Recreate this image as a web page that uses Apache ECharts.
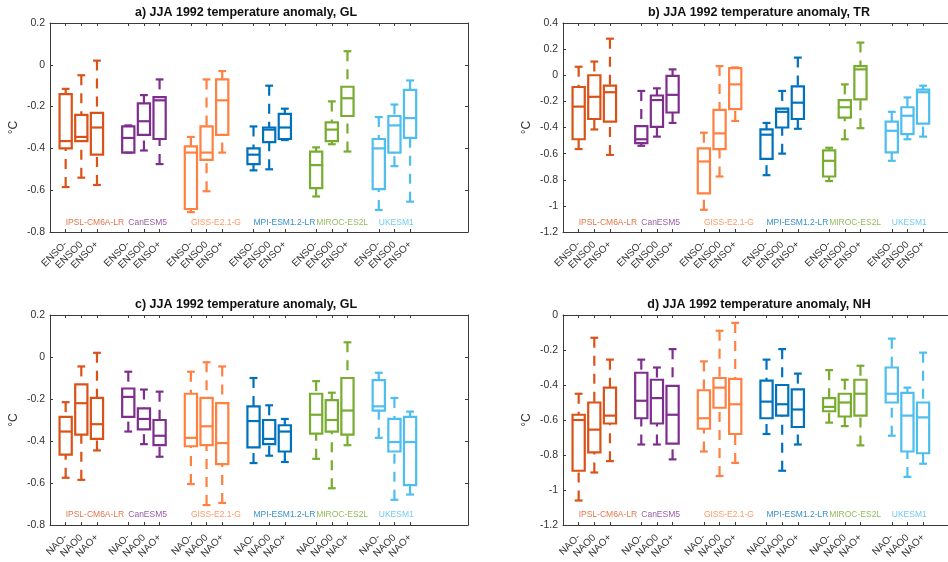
<!DOCTYPE html>
<html lang="en">
<head>
<meta charset="utf-8">
<title>JJA 1992 temperature anomaly</title>
<script src="https://cdn.jsdelivr.net/npm/echarts@6.0.0/dist/echarts.min.js"></script>
<style>
  html, body { margin: 0; padding: 0; background: #fff; }
  #main { width: 948px; height: 562px; }
</style>
</head>
<body>
<div id="main"></div>
<script type="text/javascript">
// models and their colours
var models = ['IPSL-CM6A-LR', 'CanESM5', 'GISS-E2.1-G', 'MPI-ESM1.2-LR', 'MIROC-ES2L', 'UKESM1'];
var modelColors = ['#D95319', '#7E2F8E', '#FF8040', '#0072BD', '#77AC30', '#4DBEEE'];
// x positions of the 18 boxes (3 per model, one empty slot between models)
var positions = [1, 2, 3, 5, 6, 7, 9, 10, 11, 13, 14, 15, 17, 18, 19, 21, 22, 23];
var ensoLabels = ['ENSO-', 'ENSO0', 'ENSO+'];
var naoLabels = ['NAO-', 'NAO0', 'NAO+'];

// each row: [lower whisker, q1, median, q3, upper whisker]
var aGL = [
  [-0.585, -0.40, -0.365, -0.14, -0.115], [-0.54, -0.365, -0.345, -0.24, -0.05], [-0.575, -0.43, -0.30, -0.23, 0.02],
  [-0.42, -0.42, -0.35, -0.295, -0.29], [-0.41, -0.335, -0.27, -0.185, -0.145], [-0.475, -0.355, -0.17, -0.155, -0.07],
  [-0.705, -0.69, -0.42, -0.39, -0.345], [-0.605, -0.455, -0.42, -0.295, -0.07], [-0.42, -0.335, -0.17, -0.07, -0.03],
  [-0.505, -0.475, -0.43, -0.40, -0.295], [-0.50, -0.37, -0.31, -0.30, -0.10], [-0.36, -0.355, -0.30, -0.235, -0.21],
  [-0.63, -0.59, -0.48, -0.415, -0.395], [-0.38, -0.365, -0.31, -0.275, -0.175], [-0.415, -0.245, -0.16, -0.105, 0.065],
  [-0.695, -0.595, -0.40, -0.355, -0.25], [-0.485, -0.42, -0.29, -0.245, -0.19], [-0.655, -0.35, -0.255, -0.12, -0.075]
];
var bTR = [
  [-0.565, -0.49, -0.24, -0.09, 0.065], [-0.415, -0.335, -0.165, 0.0, 0.105], [-0.61, -0.355, -0.13, -0.08, 0.28],
  [-0.54, -0.52, -0.49, -0.39, -0.12], [-0.47, -0.395, -0.19, -0.155, -0.10], [-0.365, -0.285, -0.15, -0.005, 0.045],
  [-1.03, -0.905, -0.66, -0.56, -0.44], [-0.775, -0.565, -0.445, -0.265, 0.07], [-0.35, -0.26, -0.07, 0.055, 0.06],
  [-0.765, -0.64, -0.455, -0.415, -0.365], [-0.60, -0.40, -0.28, -0.255, -0.12], [-0.41, -0.335, -0.21, -0.085, 0.135],
  [-0.81, -0.775, -0.655, -0.575, -0.555], [-0.49, -0.325, -0.245, -0.19, -0.07], [-0.405, -0.185, 0.045, 0.07, 0.25],
  [-0.655, -0.59, -0.425, -0.355, -0.28], [-0.49, -0.45, -0.31, -0.245, -0.17], [-0.47, -0.37, -0.13, -0.11, -0.08]
];
var cGL = [
  [-0.575, -0.465, -0.355, -0.285, -0.215], [-0.585, -0.37, -0.22, -0.13, -0.045], [-0.445, -0.39, -0.32, -0.195, 0.02],
  [-0.355, -0.285, -0.19, -0.15, -0.07], [-0.415, -0.345, -0.295, -0.245, -0.155], [-0.475, -0.42, -0.375, -0.30, -0.165],
  [-0.605, -0.425, -0.385, -0.175, -0.07], [-0.705, -0.42, -0.33, -0.195, -0.025], [-0.695, -0.51, -0.41, -0.22, -0.045],
  [-0.505, -0.43, -0.305, -0.235, -0.10], [-0.47, -0.415, -0.39, -0.30, -0.23], [-0.50, -0.45, -0.355, -0.325, -0.295],
  [-0.485, -0.365, -0.275, -0.175, -0.115], [-0.625, -0.355, -0.30, -0.205, -0.17], [-0.42, -0.37, -0.255, -0.10, 0.07],
  [-0.385, -0.255, -0.235, -0.11, -0.075], [-0.68, -0.45, -0.405, -0.295, -0.195], [-0.655, -0.61, -0.405, -0.285, -0.26]
];
var dNH = [
  [-1.06, -0.89, -0.60, -0.57, -0.45], [-0.90, -0.785, -0.655, -0.50, -0.13], [-0.835, -0.62, -0.575, -0.415, -0.255],
  [-0.74, -0.59, -0.49, -0.33, -0.255], [-0.74, -0.62, -0.475, -0.37, -0.30], [-0.825, -0.735, -0.57, -0.405, -0.195],
  [-0.78, -0.65, -0.59, -0.43, -0.265], [-0.92, -0.53, -0.415, -0.36, -0.09], [-0.845, -0.68, -0.51, -0.365, -0.045],
  [-0.68, -0.59, -0.495, -0.375, -0.255], [-0.89, -0.575, -0.51, -0.40, -0.195], [-0.74, -0.64, -0.54, -0.425, -0.335],
  [-0.615, -0.55, -0.525, -0.475, -0.315], [-0.635, -0.58, -0.50, -0.45, -0.37], [-0.745, -0.575, -0.45, -0.37, -0.29],
  [-0.69, -0.50, -0.45, -0.30, -0.135], [-0.925, -0.78, -0.575, -0.445, -0.415], [-0.85, -0.79, -0.585, -0.50, -0.215]
];

var panels = [
  { title: 'a) JJA 1992 temperature anomaly, GL', data: aGL, ticks: ensoLabels, min: -0.8, max: 0.2, left: 50, top: 23, height: 209 },
  { title: 'b) JJA 1992 temperature anomaly, TR', data: bTR, ticks: ensoLabels, min: -1.2, max: 0.4, left: 563, top: 23, height: 209 },
  { title: 'c) JJA 1992 temperature anomaly, GL', data: cGL, ticks: naoLabels, min: -0.8, max: 0.2, left: 50, top: 315, height: 210 },
  { title: 'd) JJA 1992 temperature anomaly, NH', data: dNH, ticks: naoLabels, min: -1.2, max: 0, left: 563, top: 315, height: 210 }
];

var XMAX = 26.7;
var PLOT_W = 418;
var BOX_W = 0.78;
var CAP_W = 0.5;
var FONT = "'Liberation Sans', Arial, sans-serif";
var AXIS_COLOR = '#3a3a3a';

function renderBox(params, api) {
  var x = api.value(0);
  var lo = api.coord([x, api.value(1)]);
  var q1 = api.coord([x, api.value(2)]);
  var md = api.coord([x, api.value(3)]);
  var q3 = api.coord([x, api.value(4)]);
  var hi = api.coord([x, api.value(5)]);
  var half = api.size([BOX_W, 0])[0] / 2;
  var cap = api.size([CAP_W, 0])[0] / 2;
  var cx = md[0];
  var color = modelColors[api.value(6)];
  var solid = { stroke: color, lineWidth: 2.2, fill: 'none' };
  var dashed = { stroke: color, lineWidth: 2.2, lineDash: [10, 8], fill: 'none' };
  // whiskers are drawn from the cap towards the box so the dash pattern starts at the cap
  return {
    type: 'group',
    children: [
      { type: 'line', shape: { x1: cx, y1: hi[1], x2: cx, y2: q3[1] }, style: dashed },
      { type: 'line', shape: { x1: cx, y1: lo[1], x2: cx, y2: q1[1] }, style: dashed },
      { type: 'line', shape: { x1: cx - cap, y1: hi[1], x2: cx + cap, y2: hi[1] }, style: solid },
      { type: 'line', shape: { x1: cx - cap, y1: lo[1], x2: cx + cap, y2: lo[1] }, style: solid },
      { type: 'rect', shape: { x: cx - half, y: q3[1], width: half * 2, height: q1[1] - q3[1] }, style: solid },
      { type: 'line', shape: { x1: cx - half, y1: md[1], x2: cx + half, y2: md[1] }, style: solid }
    ]
  };
}

var grids = [], xAxes = [], yAxes = [], series = [], graphics = [];

panels.forEach(function (p, i) {
  // the right-hand panels run past the page edge, as in the original figure
  grids.push({ left: p.left, top: p.top, width: PLOT_W, height: p.height, containLabel: false, outerBoundsMode: 'none' });

  var tickLabel = function (v) {
    var k = positions.indexOf(v);
    return k < 0 ? '' : p.ticks[k % 3];
  };
  // bottom x axis with labels; empty labels at both ends keep the
  // min/max overlap check from dropping real labels
  xAxes.push({
    type: 'value', gridIndex: i, min: 0, max: XMAX, position: 'bottom',
    axisLine: { show: true, onZero: false, lineStyle: { color: AXIS_COLOR, width: 1 } },
    axisTick: { show: true, inside: true, length: 3, customValues: positions, lineStyle: { color: AXIS_COLOR } },
    axisLabel: {
      show: true, customValues: [0].concat(positions, [XMAX]), rotate: 45, margin: 11,
      showMinLabel: true, showMaxLabel: true, hideOverlap: false,
      fontSize: 10, fontFamily: FONT, color: '#333', formatter: tickLabel
    },
    splitLine: { show: false }
  });
  // top x axis (box edge with ticks)
  xAxes.push({
    type: 'value', gridIndex: i, min: 0, max: XMAX, position: 'top',
    axisLine: { show: true, onZero: false, lineStyle: { color: AXIS_COLOR, width: 1 } },
    axisTick: { show: true, inside: true, length: 3, customValues: positions, lineStyle: { color: AXIS_COLOR } },
    axisLabel: { show: false },
    splitLine: { show: false }
  });
  // left y axis
  yAxes.push({
    type: 'value', gridIndex: i, min: p.min, max: p.max, interval: 0.2, position: 'left',
    name: '°C', nameLocation: 'middle', nameGap: 30, nameRotate: 90,
    nameTextStyle: { fontSize: 12, fontFamily: FONT, color: '#333' },
    axisLine: { show: true, onZero: false, lineStyle: { color: AXIS_COLOR, width: 1 } },
    axisTick: { show: true, inside: true, length: 3, lineStyle: { color: AXIS_COLOR } },
    axisLabel: { fontSize: 10.5, fontFamily: FONT, color: '#333', margin: 5, showMinLabel: true, showMaxLabel: true },
    splitLine: { show: false }
  });
  // right y axis (box edge with ticks)
  yAxes.push({
    type: 'value', gridIndex: i, min: p.min, max: p.max, interval: 0.2, position: 'right',
    axisLine: { show: true, onZero: false, lineStyle: { color: AXIS_COLOR, width: 1 } },
    axisTick: { show: true, inside: true, length: 3, lineStyle: { color: AXIS_COLOR } },
    axisLabel: { show: false },
    splitLine: { show: false }
  });

  var boxData = p.data.map(function (r, k) {
    return [positions[k], r[0], r[1], r[2], r[3], r[4], Math.floor(k / 3)];
  });
  series.push({
    type: 'custom', xAxisIndex: i * 2, yAxisIndex: i * 2,
    renderItem: renderBox, data: boxData, clip: false, silent: true,
    encode: { x: 0, y: [1, 2, 3, 4, 5] }
  });

  // model names near the bottom of each panel, starting at each group's first box
  var labelY = p.min + 0.047 * (p.max - p.min);
  series.push({
    type: 'scatter', xAxisIndex: i * 2, yAxisIndex: i * 2, symbolSize: 0, silent: true,
    data: models.map(function (m, k) {
      return {
        value: [positions[k * 3], labelY], name: m,
        label: { color: modelColors[k] }
      };
    }),
    label: {
      show: true, position: 'right', distance: 0, fontSize: 8.5, fontFamily: FONT,
      formatter: function (d) { return d.name; }
    }
  });

  graphics.push({
    type: 'text', x: p.left + PLOT_W / 2 - 13, y: p.top - 10,
    style: {
      text: p.title, font: 'bold 12.5px ' + FONT, fill: '#111',
      textAlign: 'center', textVerticalAlign: 'middle', align: 'center', verticalAlign: 'middle'
    }
  });
});

var chart = echarts.init(document.getElementById('main'), null, { renderer: 'canvas' });
chart.setOption({
  backgroundColor: '#ffffff',
  animation: false,
  grid: grids,
  xAxis: xAxes,
  yAxis: yAxes,
  series: series,
  graphic: graphics
});
</script>
</body>
</html>
